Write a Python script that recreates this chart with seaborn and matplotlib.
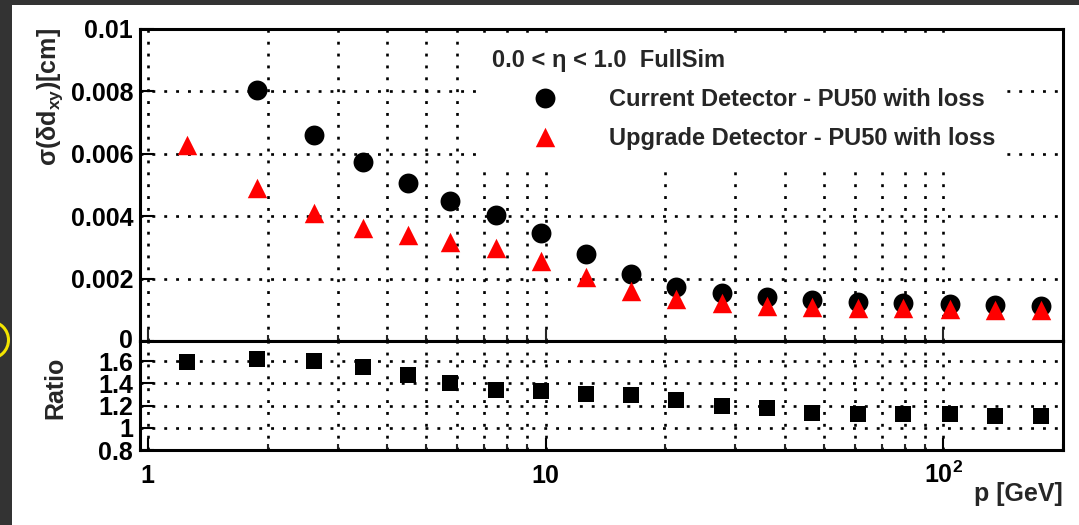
import numpy as np
import pandas as pd
import matplotlib
matplotlib.use("Agg")
import matplotlib.pyplot as plt
import matplotlib.ticker as mticker
import matplotlib.transforms as mtransforms
from matplotlib.patches import Rectangle, Circle
import seaborn as sns

# Track momentum bin centres [GeV]
p_gev = [1.256, 1.883, 2.62, 3.48, 4.51, 5.75, 7.51, 9.74, 12.64, 16.4,
         21.3, 27.8, 36.0, 46.9, 61.2, 79.4, 103.7, 135.3, 176.5]
# Transverse impact-parameter resolution sigma(delta d_xy) [cm]
sigma_current = [np.nan, 0.00804, 0.00660, 0.00573, 0.00505, 0.00450, 0.00404,
                 0.00345, 0.00278, 0.00214, 0.00174, 0.00155, 0.00140, 0.00131,
                 0.00124, 0.00121, 0.00118, 0.00115, 0.00112]
sigma_upgrade = [0.00628, 0.00489, 0.00409, 0.00363, 0.00340, 0.00318, 0.00297,
                 0.00256, 0.00204, 0.00161, 0.00134, 0.00123, 0.00112, 0.00108,
                 0.00105, 0.00105, 0.00102, 0.00099, 0.00099]
# Current / Upgrade
ratio = [1.589, 1.616, 1.600, 1.545, 1.470, 1.400, 1.342, 1.333, 1.306, 1.297,
         1.246, 1.200, 1.180, 1.134, 1.128, 1.120, 1.120, 1.110, 1.110]

label_current = "Current Detector - PU50 with loss"
label_upgrade = "Upgrade Detector - PU50 with loss"
legend_header = "0.0 < η < 1.0  FullSim"

top_yticks = [0, 0.002, 0.004, 0.006, 0.008, 0.01]
ratio_yticks = [0.8, 1.0, 1.2, 1.4, 1.6]
x_major = [1, 10, 100]
x_major_labels = ["1", "10", r"$10^{2}$"]

df = pd.DataFrame({"p": p_gev, "current": sigma_current,
                   "upgrade": sigma_upgrade, "ratio": ratio})

sns.set_theme(style="white")
plt.rcParams.update({
    "font.family": ["Liberation Sans", "DejaVu Sans"],
    "font.weight": "bold",
    "mathtext.fontset": "custom",
    "mathtext.rm": "Liberation Sans:bold",
    "mathtext.bf": "Liberation Sans:bold",
    "mathtext.it": "Liberation Sans:bold:italic",
    "mathtext.default": "regular",
    "axes.linewidth": 2.2,
    "axes.edgecolor": "black",
    "axes.facecolor": "white",
})

W, H = 1079, 525
fig = plt.figure(figsize=(W / 100, H / 100), dpi=100, facecolor="#333333")
fig.add_artist(Rectangle((12 / W, 0), 1, 520 / H, transform=fig.transFigure,
                         facecolor="white", edgecolor="none", zorder=-1))
fig.add_artist(Circle((-0.10, 1.85), 0.185, transform=fig.dpi_scale_trans,
                      fill=False, edgecolor="#f2e400", linewidth=2.2, zorder=5,
                      clip_on=False))

ax_top = fig.add_axes([140 / W, 184 / H, 923 / W, 312 / H])
ax_rat = fig.add_axes([140 / W, 75 / H, 923 / W, 109 / H], sharex=ax_top)

for ax in (ax_top, ax_rat):
    ax.set_xscale("log")

sns.scatterplot(data=df, x="p", y="current", ax=ax_top, marker="o", s=205,
                color="black", linewidth=0, zorder=3, label=label_current, legend=False)
sns.scatterplot(data=df, x="p", y="upgrade", ax=ax_top, marker="^", s=196,
                color="#ff0000", linewidth=0, zorder=4, label=label_upgrade, legend=False)
sns.scatterplot(data=df, x="p", y="ratio", ax=ax_rat, marker="s", s=145,
                color="black", linewidth=0, zorder=3, legend=False)

ax_top.set_xlim(0.956, 200)
ax_top.set_ylim(0, 0.01)
ax_rat.set_ylim(0.8, 1.78)

dots = (0, (1.1, 3.4))
for ax in (ax_top, ax_rat):
    ax.set_axisbelow(True)
    ax.xaxis.set_major_locator(mticker.FixedLocator(x_major))
    ax.xaxis.set_minor_locator(mticker.LogLocator(base=10, subs=np.arange(2, 10), numticks=20))
    ax.xaxis.set_major_formatter(mticker.FixedFormatter(x_major_labels))
    ax.xaxis.set_minor_formatter(mticker.NullFormatter())
    ax.yaxis.set_minor_locator(mticker.NullLocator())
    ax.grid(True, which="both", axis="x", color="black", linestyle=dots, linewidth=1.9)
    ax.grid(True, which="major", axis="y", color="black", linestyle=dots, linewidth=1.9)
    for s in ax.spines.values():
        s.set_visible(True)
        s.set_linewidth(2.2)
        s.set_color("black")

ax_top.yaxis.set_major_locator(mticker.FixedLocator(top_yticks))
ax_top.yaxis.set_major_formatter(mticker.FuncFormatter(lambda v, _: f"{v:g}"))
ax_rat.yaxis.set_major_locator(mticker.FixedLocator(ratio_yticks))
ax_rat.yaxis.set_major_formatter(mticker.FuncFormatter(lambda v, _: f"{v:g}"))

ax_top.tick_params(axis="y", which="major", direction="in", length=10, width=1.5,
                   labelsize=18, pad=5, left=True, right=False, colors="black")
ax_rat.tick_params(axis="y", which="major", direction="in", length=10, width=1.5,
                   labelsize=18, pad=5, left=True, right=False, colors="black")
ax_top.tick_params(axis="x", which="major", direction="in", length=9, width=1.5,
                   bottom=True, top=False, labelbottom=False)
ax_top.tick_params(axis="x", which="minor", direction="in", length=4, width=1.5,
                   bottom=True, top=False)
ax_rat.tick_params(axis="x", which="major", direction="in", length=9, width=1.5,
                   bottom=True, top=False, labelsize=18, pad=23.8, colors="black")
ax_rat.tick_params(axis="x", which="minor", direction="in", length=4, width=1.5,
                   bottom=True, top=False)
plt.setp(ax_rat.get_xticklabels(), va="baseline")

ax_top.set_xlabel("")
ax_top.set_ylabel("σ(δd$_{xy}$)[cm]", fontsize=18, fontweight="bold", va="center")
ax_top.yaxis.set_label_coords((50 - 140) / 923, (341 - 97.5) / 312)
ax_rat.set_ylabel("Ratio", fontsize=18, fontweight="bold", va="center")
ax_rat.yaxis.set_label_coords((55 - 140) / 923, (450 - 388) / 109)
ax_rat.set_xlabel("p [GeV]", fontsize=18, fontweight="bold", ha="right", va="top")
ax_rat.xaxis.set_label_coords(1.0, (450 - 482) / 109)

# white legend area that hides the grid beneath it
ax_top.add_patch(Rectangle(((477 - 140) / 923, (341 - 167) / 312),
                           (1002 - 477) / 923, (167 - 33) / 312,
                           transform=ax_top.transAxes, facecolor="white",
                           edgecolor="none", zorder=1))
handles = ax_top.collections[:2]
leg = ax_top.legend(handles, [label_current, label_upgrade], title=legend_header,
                    loc="upper left", bbox_to_anchor=(0.3712, 0.966),
                    borderaxespad=0, borderpad=0.4, frameon=False,
                    prop={"size": 17, "weight": "bold"},
                    title_fontproperties={"size": 17, "weight": "bold"},
                    handlelength=4.49, handletextpad=0.47, labelspacing=0.68,
                    scatteryoffsets=[0.5], alignment="left")
leg.set_zorder(6)

# lift the "0" of the upper panel slightly so it clears the ratio labels
fig.canvas.draw()
zero_label = ax_top.yaxis.get_major_ticks()[0].label1
zero_label.set_transform(zero_label.get_transform()
                         + mtransforms.ScaledTranslation(0, 3 / 100, fig.dpi_scale_trans))

fig.savefig("out.png", dpi=100, facecolor=fig.get_facecolor())
